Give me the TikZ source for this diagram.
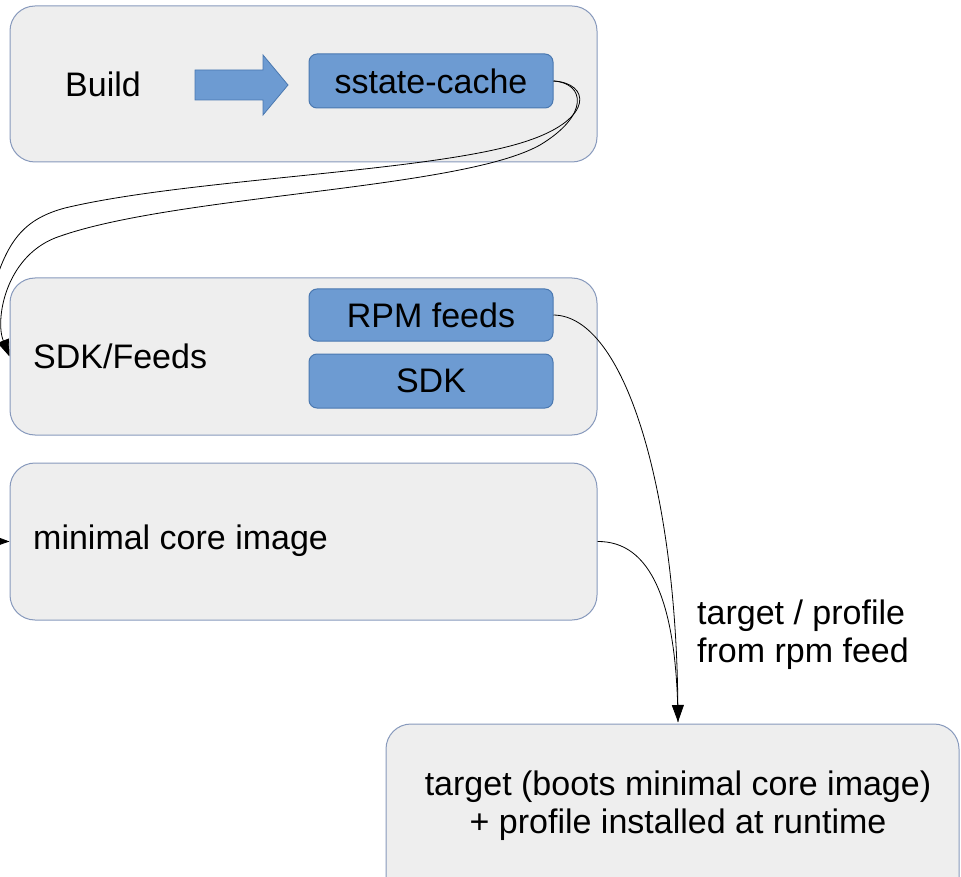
\documentclass[tikz,border=0pt]{standalone}
\usepackage{fontspec}
\setmainfont{Liberation Sans}
\usetikzlibrary{arrows.meta}
\definecolor{boxfill}{HTML}{EEEEEE}
\definecolor{boxline}{HTML}{8799BC}
\definecolor{bluefill}{HTML}{6D9BD2}
\definecolor{blueline}{HTML}{4A78B0}
\begin{document}
\begin{tikzpicture}[x=1pt,y=-1pt, font=\fontsize{34}{38}\selectfont,
  outer/.style={draw=boxline, fill=boxfill, rounded corners=25pt, line width=1pt, inner sep=0pt},
  innerbox/.style={draw=blueline, fill=bluefill, rounded corners=8pt, line width=1pt, minimum width=244pt, inner sep=0pt},
  txt/.style={inner sep=0pt},
  conn/.style={draw=black, line width=0.8pt},
  tipped/.style={-{Triangle[length=17pt,width=12pt]}}]
\useasboundingbox (0,0) rectangle (961,877);
% outer boxes
\node[outer, minimum width=587pt, minimum height=156pt] (build) at (303.5,84) {};
\node[outer, minimum width=587pt, minimum height=157pt] (sdkf) at (303.5,356.5) {};
\node[outer, minimum width=587pt, minimum height=157pt] (mci) at (303.5,541.5) {};
\node[outer, minimum width=573pt, minimum height=190pt] (tgt) at (672.5,819) {};
% texts
\node[txt] (buildtxt) at (103,84) {Build};
\node[txt, anchor=west] (sdkftxt) at (33,356) {SDK/Feeds};
\node[txt, anchor=west] (mcitxt) at (33,541) {minimal core image};
\node[txt, align=center] (tgttxt) at (678,806) {target (boots minimal core image)\\+ profile installed at runtime};
\node[txt, align=left, anchor=west] (lbl) at (697,635) {target / profile\\from rpm feed};
% inner boxes
\node[innerbox, minimum height=54pt] (sc) at (431,81) {sstate-cache};
\node[innerbox, minimum height=52pt] (rpm) at (431,315) {RPM feeds};
\node[innerbox, minimum height=54pt] (sdk) at (431,381) {SDK};
% block arrow
\draw[draw=blueline, fill=bluefill, line width=0.8pt] (195,70) -- (263,70) -- (263,55) -- (288,85) -- (263,115) -- (263,100) -- (195,100) -- cycle;
% connectors
\draw[conn, tipped] (sc.east) .. controls (585,83) and (590,115) .. (540,145)
  .. controls (460,190) and (170,195) .. (55,238)
  .. controls (5,258) and (-5,320) .. (sdkf.west);
\draw[conn, tipped] (sc.east) .. controls (590,83) and (594,118) .. (530,140)
  .. controls (440,172) and (190,178) .. (65,208)
  .. controls (20,220) and (5,245) .. (-10,300)
  .. controls (-30,430) and (-30,541) .. (mci.west);
\coordinate (tin) at (678,722);
\draw[conn, tipped] (rpm.east) .. controls (625,316) and (676,490) .. (tin);
\draw[conn] (mci.east) .. controls (650,541) and (677,600) .. (tin);
\end{tikzpicture}
\end{document}
